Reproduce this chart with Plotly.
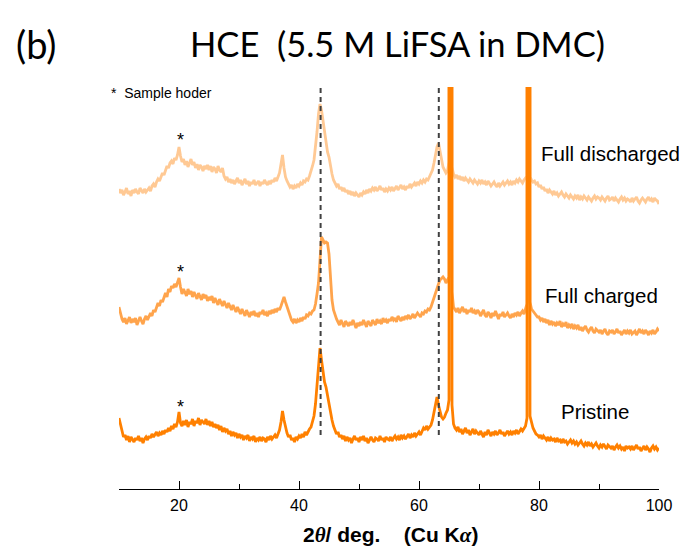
import numpy as np
import plotly.graph_objects as go

# 2-theta grid (deg), 0.25 deg step from 10 to 100 (361 points)
two_theta = np.arange(361) * 0.25 + 10.0

# Intensities (a.u., relative to each pattern's own baseline).
# One row = 5 degrees (20 points).
pristine = [
    22, 15, 7, 3, 5, 0, 4, -2, 3, 1, -2, 2, 0, 4, -1, 2, -3, 1, 3, 0,
    4, 2, 6, 3, 5, 8, 4, 7, 5, 9, 6, 10, 8, 12, 9, 14, 11, 16, 13, 18,
    28, 17, 14, 19, 15, 20, 13, 18, 16, 21, 14, 19, 17, 22, 15, 20, 18, 16, 21, 15,
    19, 14, 18, 13, 16, 12, 15, 10, 14, 8, 12, 9, 11, 6, 9, 4, 8, 5, 7, 2,
    6, 3, 5, 0, 4, 2, 5, -1, 3, 1, 4, -2, 2, 0, 3, -1, 2, 1, -2, 3,
    0, 4, 1, 3, 5, 2, 6, 10, 18, 29, 20, 12, 7, 3, 5, 0, 2, -2, 3, 1,
    4, 2, 6, 3, 8, 5, 9, 11, 13, 18, 24, 36, 55, 78, 92, 80, 67, 58, 53, 45,
    33, 26, 20, 14, 10, 6, 8, 3, 5, 1, 4, -1, 3, 0, 2, -3, 1, 4, 0, 2,
    -2, 3, 0, 4, -1, 2, -3, 1, 3, 0, -2, 2, 1, -1, 4, 0, 2, -2, 3, 1,
    0, 3, -1, 2, 4, 1, 3, 0, 5, 2, 4, 1, 3, 6, 2, 5, 3, 7, 4, 6,
    8, 5, 9, 12, 10, 14, 11, 13, 15, 20, 28, 36, 43, 35, 28, 23, 21, 23, 27, 30,
    40, 3000, 35, 16, 12, 10, 13, 8, 11, 6, 9, 12, 7, 10, 5, 8, 11, 6, 9, 7,
    5, 9, 6, 3, 8, 5, 10, 7, 4, 8, 6, 9, 5, 7, 10, 6, 8, 4, 7, 9,
    6, 8, 5, 9, 7, 10, 6, 8, 11, 9, 12, 14, 22, 3000, 24, 16, 12, 9, 6, 5,
    3, 5, 1, 4, 2, 0, 3, -1, 2, 0, 1, -2, 2, -1, 0, -3, 1, -2, -1, -4,
    -2, 0, -3, -1, -4, -2, -5, -3, -1, -4, -6, -3, -5, -2, -6, -4, -7, -5, -3, -6,
    -8, -5, -7, -4, -6, -9, -5, -7, -8, -6, -10, -7, -5, -8, -6, -9, -7, -11, -6, -8,
    -7, -9, -6, -10, -8, -5, -9, -7, -11, -8, -6, -10, -7, -9, -12, -8, -6, -9, -7, -10,
    -8,
]
charged = [
    15, 8, 3, 0, 4, -2, 2, 5, -1, 3, 0, 4, -3, 2, 5, 1, -2, 3, 6, 2,
    5, 9, 6, 12, 10, 15, 19, 16, 22, 20, 26, 29, 25, 33, 30, 36, 34, 38, 35, 40,
    44, 35, 28, 33, 30, 26, 33, 28, 31, 25, 30, 27, 23, 29, 26, 22, 28, 24, 27, 21,
    25, 22, 26, 19, 24, 21, 17, 23, 20, 16, 21, 18, 14, 19, 15, 12, 17, 13, 10, 15,
    11, 8, 13, 9, 6, 12, 8, 5, 10, 7, 11, 6, 9, 5, 10, 8, 12, 7, 9, 6,
    11, 8, 12, 9, 13, 10, 14, 12, 16, 21, 25, 20, 15, 10, 5, 2, 0, 3, -1, 2,
    0, 4, 1, 5, 3, 7, 6, 9, 8, 11, 12, 18, 28, 39, 62, 85, 82, 79, 80, 79,
    68, 45, 22, 12, 7, 3, 0, -3, 2, -2, -5, 1, -1, -4, 0, -3, 2, -2, -6, -1,
    -4, 0, -3, 2, -2, -5, 1, -1, -4, 2, 0, -3, 3, -1, 1, -2, 4, 0, 2, -1,
    3, 1, 5, 2, 4, 0, 6, 3, 1, 5, 2, 6, 4, 7, 3, 5, 8, 4, 6, 9,
    7, 5, 9, 8, 11, 10, 13, 12, 15, 20, 25, 30, 34, 38, 42, 44, 45, 43, 39, 42,
    45, 3000, 30, 15, 13, 10, 14, 9, 12, 15, 10, 13, 8, 12, 10, 14, 9, 11, 8, 12,
    10, 6, 9, 12, 7, 5, 10, 8, 4, 9, 6, 11, 7, 3, 8, 6, 10, 5, 7, 9,
    6, 4, 8, 5, 9, 7, 10, 6, 9, 11, 8, 12, 18, 3000, 20, 13, 11, 8, 6, 5,
    5, 2, 4, 0, 3, -1, 2, -3, 1, -2, 0, -4, -1, -3, 1, -5, -2, -4, 0, -6,
    -3, -5, -2, -7, -4, -6, -3, -8, -5, -9, -6, -4, -8, -10, -7, -5, -9, -11, -7, -9,
    -10, -8, -12, -9, -7, -11, -13, -9, -10, -8, -12, -10, -7, -11, -9, -13, -10, -8, -12, -9,
    -11, -8, -12, -10, -9, -13, -10, -7, -11, -9, -12, -8, -10, -13, -9, -11, -8, -12, -10, -7,
    -9,
]
discharged = [
    3, -1, 2, -3, 0, 4, -2, 1, -4, 2, -1, 3, 0, -2, 4, 1, -1, 3, 0, 2,
    4, 1, 6, 8, 5, 10, 13, 11, 16, 19, 17, 23, 26, 24, 29, 31, 28, 34, 32, 37,
    45, 36, 30, 33, 27, 31, 25, 29, 33, 27, 30, 24, 28, 22, 27, 25, 21, 26, 23, 27,
    22, 26, 20, 25, 23, 19, 26, 22, 20, 24, 16, 13, 15, 10, 13, 9, 12, 8, 11, 14,
    9, 12, 7, 10, 13, 8, 11, 6, 10, 8, 12, 7, 9, 11, 6, 10, 8, 12, 9, 7,
    11, 8, 12, 10, 14, 11, 15, 19, 28, 37, 24, 15, 11, 8, 5, 7, 3, 6, 4, 8,
    6, 9, 7, 11, 10, 13, 12, 16, 20, 26, 32, 45, 60, 78, 88, 82, 72, 60, 48, 40,
    35, 25, 18, 12, 9, 6, 8, 3, 5, 1, 4, 0, 2, -2, 1, -3, 0, -4, -1, -3,
    -5, -1, -3, 0, -2, 2, -1, 3, 1, 4, 2, 5, 1, 3, 6, 2, 4, 0, 3, 1,
    4, 2, 5, 1, 3, 6, 2, 4, 7, 3, 5, 2, 6, 4, 8, 5, 7, 9, 6, 10,
    8, 11, 9, 12, 10, 13, 12, 15, 18, 22, 29, 38, 45, 49, 40, 32, 25, 22, 19, 21,
    30, 3000, 25, 18, 15, 17, 13, 16, 12, 15, 11, 14, 12, 10, 13, 11, 9, 12, 10, 8,
    11, 9, 12, 8, 10, 7, 11, 9, 6, 8, 10, 7, 5, 9, 6, 8, 10, 7, 9, 11,
    8, 10, 7, 11, 9, 12, 10, 13, 11, 9, 12, 14, 16, 3000, 15, 12, 10, 11, 8, 9,
    5, 7, 3, 5, 1, 3, -1, 2, 0, -2, 1, -3, -1, -4, -2, 0, -3, -5, -2, -4,
    -6, -3, -5, -7, -4, -6, -3, -8, -5, -7, -4, -6, -8, -5, -7, -9, -6, -4, -7, -5,
    -6, -8, -5, -7, -9, -6, -4, -8, -7, -5, -9, -6, -8, -10, -7, -5, -8, -6, -9, -7,
    -8, -10, -6, -9, -7, -5, -9, -11, -8, -6, -8, -10, -7, -5, -9, -7, -10, -6, -8, -9,
    -12,
]

series_names = ["Full discharged", "Full charged", "Pristine"]
series_data = [discharged, charged, pristine]
series_offsets = [297, 167, 49]
series_colors = ["#FFC994", "#FFA44C", "#FF8000"]
label_x = [80.0, 80.6, 83.3]
label_y = [336, 194, 78]
star_y = [349, 217, 82]
ref_lines = [43.6, 63.3]

fig = go.Figure()
for name, data, off, col in zip(series_names, series_data, series_offsets, series_colors):
    fig.add_trace(go.Scatter(
        x=two_theta, y=np.array(data, dtype=float) + off, mode="lines",
        line=dict(color=col, width=2.8), name=name, showlegend=False,
    ))

for xv in ref_lines:
    fig.add_shape(type="line", x0=xv, x1=xv, y0=54, y1=402, xref="x", yref="y",
                  line=dict(color="#404040", width=2, dash="5px,4px"), layer="above")

arial = "Liberation Sans, Arial"
ann = []
for name, lx, ly in zip(series_names, label_x, label_y):
    ann.append(dict(x=lx, y=ly, xref="x", yref="y", text=name, showarrow=False,
                    xanchor="left", yanchor="middle",
                    font=dict(family=arial, size=20.5, color="black")))
for sy in star_y:
    ann.append(dict(x=20.2, y=sy, xref="x", yref="y", text="*", showarrow=False,
                    xanchor="center", yanchor="middle",
                    font=dict(family=arial, size=18, color="black")))
ann.append(dict(x=-0.019, y=0.985, xref="paper", yref="paper", text="*&nbsp;&nbsp;Sample hoder",
                showarrow=False, xanchor="left", yanchor="middle",
                font=dict(family=arial, size=14, color="black")))
ann.append(dict(x=-0.153, y=1.107, xref="paper", yref="paper", text="(b)", showarrow=False,
                xanchor="center", yanchor="middle",
                font=dict(family="Lato", size=38, color="black")))
ann.append(dict(x=0.127, y=1.107, xref="paper", yref="paper",
                text="HCE&nbsp;&nbsp;(5.5 M LiFSA in DMC)", showarrow=False,
                xanchor="left", yanchor="middle",
                font=dict(family="Lato", size=34.5, color="black")))
ann.append(dict(x=0.503, y=-0.114, xref="paper", yref="paper",
                text=("<b>2<span style='font-family:Liberation Serif'><i>θ</i></span>/ deg."
                      "&nbsp;&nbsp;&nbsp;&nbsp;(Cu K"
                      "<span style='font-family:Liberation Serif'><i>α</i></span>)</b>"),
                showarrow=False, xanchor="center", yanchor="middle",
                font=dict(family=arial, size=21, color="black")))

fig.update_layout(
    width=684, height=552,
    margin=dict(l=119, r=22, t=87, b=63),
    paper_bgcolor="white", plot_bgcolor="white",
    annotations=ann,
    xaxis=dict(range=[10, 100], tick0=0, dtick=20, ticks="inside", ticklen=8,
               tickwidth=1.3, tickcolor="black", showline=True, linecolor="black",
               linewidth=1.3, showgrid=False, zeroline=False, ticklabelstandoff=2,
               tickfont=dict(family=arial, size=16, color="black"),
               minor=dict(dtick=10, ticks="inside", ticklen=5, tickcolor="black",
                          tickwidth=1.3, showgrid=False)),
    yaxis=dict(range=[0, 402], visible=False, showgrid=False, zeroline=False),
)

fig.write_html("out.html")
